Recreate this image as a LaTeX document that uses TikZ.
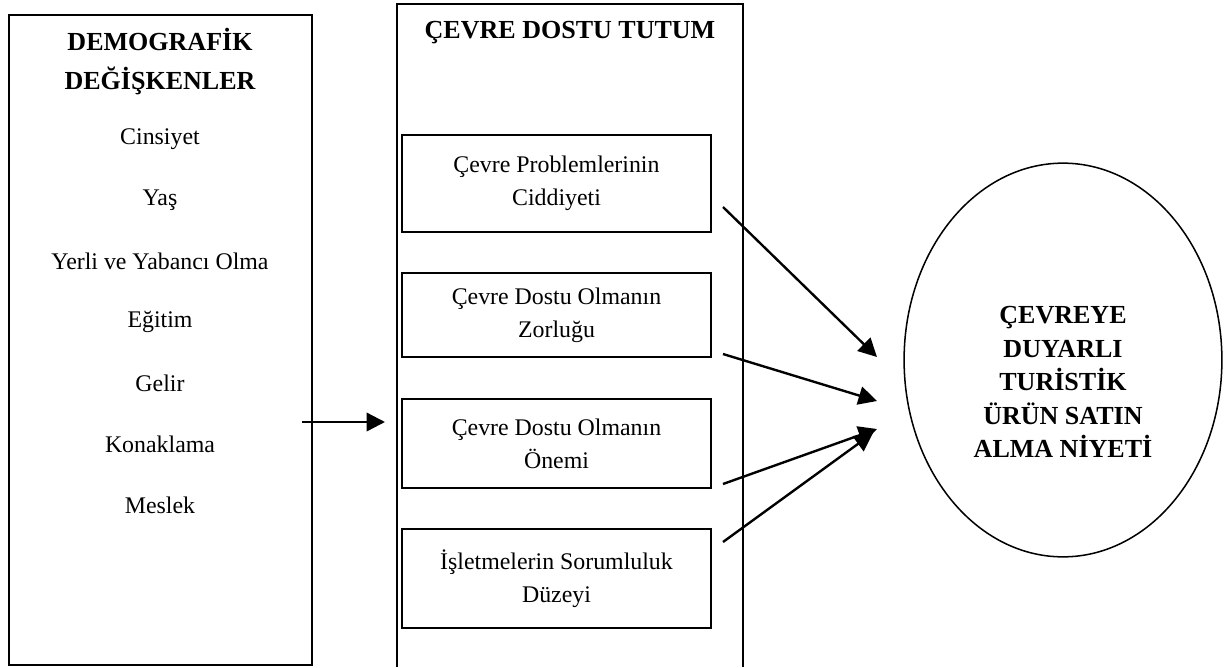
\documentclass[tikz,border=0pt]{standalone}
\usepackage{fontspec}
\setmainfont{Liberation Serif}
\usetikzlibrary{arrows.meta}
\usetikzlibrary{positioning}
\usetikzlibrary{shapes.geometric}

\begin{document}
\begin{tikzpicture} [x=0.0162cm, y=-0.0162cm,
		frame/.style={rectangle,draw=black,line width=0.9pt},
		factor/.style={rectangle,draw=black,line width=0.7pt,minimum width=5.01cm,align=center,inner sep=2pt,font=\fontsize{11pt}{15.2pt}\selectfont},
		item/.style={font=\fontsize{11pt}{13pt}\selectfont},
		title/.style={align=center,font=\fontsize{12pt}{18pt}\selectfont\bfseries},
		link/.style={line width=1.1pt,-{Triangle[length=8.5pt,width=8.5pt]}}]
		
		\useasboundingbox (0,0) rectangle (1226,667);
		
		% Demographic variables
		\node[frame,minimum width=4.91cm,minimum height=10.53cm] (demo) at (160.5,340) {};
		\node[title] (demoT) at (160,62) {DEMOGRAFİK\\DEĞİŞKENLER};
		\node[item] (cins) at (160,139) {Cinsiyet};
		\draw (cins) ++(0,61) node[item] (yas) {Yaş};
		\draw (yas) ++(0,61) node[item] (yerli) {Yerli ve Yabancı Olma};
		\draw (yerli) ++(0,61) node[item] (egitim) {Eğitim};
		\draw (egitim) ++(0,61) node[item] (gelir) {Gelir};
		\draw (gelir) ++(0,61) node[item] (konak) {Konaklama};
		\draw (konak) ++(0,61) node[item] (meslek) {Meslek};
		
		% Attitude frame - open at the bottom
		\draw[line width=0.8pt] (397,667) -- (397,4) -- (743,4) -- (743,667);
		\node[title] (tutumT) at (570,33) {ÇEVRE DOSTU TUTUM};
		
		% Attitude factors
		\node[factor,minimum height=1.57cm] (f1) at (556.5,183.5) {Çevre Problemlerinin\\Ciddiyeti};
		\node[factor,minimum height=1.36cm] (f2) at (556.5,315) {Çevre Dostu Olmanın\\Zorluğu};
		\node[factor,minimum height=1.44cm] (f3) at (556.5,443.5) {Çevre Dostu Olmanın\\Önemi};
		\node[factor,minimum height=1.60cm] (f4) at (556.5,578.5) {İşletmelerin Sorumluluk\\Düzeyi};
		
		% Purchase intention
		\node[ellipse,draw=black,line width=0.7pt,minimum width=5.15cm,minimum height=6.38cm,inner sep=0pt] (niyet) at (1063,360) {};
		\draw (niyet) ++(0,22) node[title,font=\fontsize{12pt}{15.5pt}\selectfont\bfseries] (niyetT) {ÇEVREYE\\DUYARLI\\TURİSTİK\\ÜRÜN SATIN\\ALMA NİYETİ};
		
		% Arrow ends
		\coordinate (demoOut) at (302,422);
		\coordinate (tutumIn) at (385,422);
		\coordinate (f1out) at (723,207); %factor 1
		\coordinate (f2out) at (723,354); %factor 2
		\coordinate (f3out) at (723,484); %factor 3
		\coordinate (f4out) at (723,542); %factor 4
		\coordinate (tip1) at (877,357);
		\coordinate (tip2) at (877,401);
		\coordinate (tip3) at (877,429);
		\coordinate (tip4) at (873,433);
		
		% Arrows
		\draw[link] (demoOut) -- (tutumIn);
		\draw[link] (f1out) -- (tip1);
		\draw[link] (f2out) -- (tip2);
		\draw[link] (f3out) -- (tip3);
		\draw[link] (f4out) -- (tip4);
		\end{tikzpicture}
\end{document}
